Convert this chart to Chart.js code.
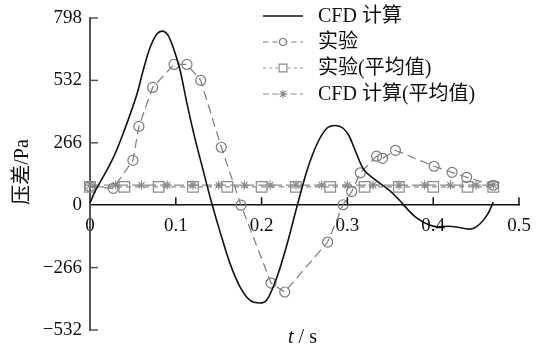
<!DOCTYPE html>
<html>
<head>
<meta charset="utf-8">
<script src="https://cdn.jsdelivr.net/npm/chart.js@4/dist/chart.umd.min.js"></script>
<style>
body { margin: 0; background: #fff; }
</style>
</head>
<body>
<canvas id="myChart" width="546" height="346"></canvas>
<script>
// CFD 计算 curve
var cfdT = [0, 0.006, 0.013, 0.024, 0.031, 0.040, 0.048, 0.055, 0.062, 0.070, 0.078, 0.084, 0.091, 0.097, 0.105, 0.113, 0.122, 0.130, 0.140, 0.152, 0.163, 0.175, 0.186, 0.198, 0.206, 0.218, 0.230, 0.241, 0.253, 0.265, 0.276, 0.286, 0.295, 0.302, 0.309, 0.318, 0.330, 0.340, 0.350, 0.361, 0.372, 0.381, 0.393, 0.405, 0.418, 0.430, 0.443, 0.455, 0.464, 0.470];
var cfdP = [10, 60, 106, 179, 234, 319, 400, 477, 575, 672, 730, 742, 724, 672, 575, 434, 289, 175, 34, -119, -247, -349, -404, -417, -404, -306, -162, -9, 149, 264, 328, 340, 328, 295, 234, 158, 115, 88, 60, 20, -25, -55, -80, -92, -90, -95, -102, -78, -35, 13];
// 实验
var expT = [0, 0.027, 0.050, 0.057, 0.073, 0.098, 0.113, 0.129, 0.153, 0.176, 0.211, 0.227, 0.277, 0.295, 0.305, 0.315, 0.334, 0.341, 0.356, 0.401, 0.422, 0.439, 0.470];
var expP = [80, 72, 191, 336, 502, 600, 600, 532, 247, 0, -332, -370, -157, 2, 58, 138, 209, 200, 234, 166, 140, 119, 85];
// 实验(平均值)
var expAvgT = [0, 0.04, 0.08, 0.12, 0.16, 0.20, 0.24, 0.28, 0.32, 0.36, 0.40, 0.44, 0.47];
var expAvgP = [78, 78, 78, 78, 78, 78, 78, 78, 78, 78, 78, 78, 78];
// CFD 计算(平均值)
var cfdAvgT = [0, 0.03, 0.06, 0.09, 0.12, 0.15, 0.18, 0.21, 0.24, 0.27, 0.30, 0.33, 0.36, 0.39, 0.42, 0.45, 0.47];
var cfdAvgP = [86, 86, 86, 86, 86, 86, 86, 86, 86, 86, 86, 86, 86, 86, 86, 86, 86];

var seriesNames = ['CFD 计算', '实验', '实验(平均值)', 'CFD 计算(平均值)'];
var yTicks = [-532, -266, 0, 266, 532, 798];
var xTicks = [0.1, 0.2, 0.3, 0.4, 0.5];

function pts(xs, ys) {
    var out = [];
    for (var i = 0; i < xs.length; i++) out.push({ x: xs[i], y: ys[i] });
    return out;
}

var serif = '"Liberation Serif", "Times New Roman", "Noto Sans CJK SC", serif';
var grey = '#7c7c7c';
var grey2 = '#8c8c8c';

var dataObj = {
    datasets: [
        {
            label: seriesNames[0],
            data: pts(cfdT, cfdP),
            borderColor: '#111',
            borderWidth: 1.6,
            pointRadius: 0,
            cubicInterpolationMode: 'monotone',
            clip: false,
            legendMarker: null
        }, {
            label: seriesNames[1],
            data: pts(expT, expP),
            borderColor: grey,
            borderWidth: 1.2,
            borderDash: [9, 5],
            pointStyle: 'circle',
            pointRadius: 5,
            pointBorderWidth: 1.2,
            pointBorderColor: grey,
            pointBackgroundColor: 'rgba(0,0,0,0)',
            clip: false,
            legendMarker: 3.5
        }, {
            label: seriesNames[2],
            data: pts(expAvgT, expAvgP),
            borderColor: grey2,
            borderWidth: 1.2,
            borderDash: [5, 4],
            pointStyle: 'rect',
            pointRadius: 7.5,
            pointBorderWidth: 1.2,
            pointBorderColor: grey2,
            pointBackgroundColor: 'rgba(0,0,0,0)',
            clip: false,
            legendMarker: 5.5
        }, {
            label: seriesNames[3],
            data: pts(cfdAvgT, cfdAvgP),
            borderColor: grey2,
            borderWidth: 1.2,
            borderDash: [10, 4],
            pointStyle: 'star',
            pointRadius: 4.5,
            pointBorderWidth: 1.2,
            pointBorderColor: grey2,
            clip: false,
            legendMarker: 4
        }
    ]
};

function minusFmt(v) {
    return v < 0 ? '\u2212' + Math.abs(v) : String(v);
}

function drawMarker(ctx, style, r, x, y) {
    ctx.beginPath();
    if (style === 'circle') {
        ctx.arc(x, y, r, 0, Math.PI * 2);
    } else if (style === 'rect') {
        var s = r * Math.SQRT1_2;
        ctx.rect(x - s, y - s, 2 * s, 2 * s);
    } else if (style === 'star') {
        for (var a = 0; a < 4; a++) {
            var ang = a * Math.PI / 4;
            ctx.moveTo(x - r * Math.cos(ang), y - r * Math.sin(ang));
            ctx.lineTo(x + r * Math.cos(ang), y + r * Math.sin(ang));
        }
    }
    ctx.stroke();
}

var decorPlugin = {
    id: 'decor',
    afterDraw: function (chart) {
        var ctx = chart.ctx;
        var xs = chart.scales.x, ys = chart.scales.y;
        var area = chart.chartArea;
        var y0 = ys.getPixelForValue(0);
        ctx.save();
        // inward ticks
        ctx.lineWidth = 1.5;
        ctx.strokeStyle = '#555';
        yTicks.forEach(function (v) {
            if (v === 0) return;
            var py = ys.getPixelForValue(v);
            ctx.beginPath();
            ctx.moveTo(area.left, py);
            ctx.lineTo(area.left + 8, py);
            ctx.stroke();
        });
        ctx.strokeStyle = '#111';
        xTicks.forEach(function (v) {
            var px = xs.getPixelForValue(v);
            ctx.beginPath();
            ctx.moveTo(px, y0);
            ctx.lineTo(px, y0 - 8);
            ctx.stroke();
        });

        // axis titles
        ctx.fillStyle = '#111';
        ctx.textBaseline = 'middle';
        var cx = (area.left + area.right) / 2 - 2;
        ctx.font = 'italic 20px ' + serif;
        var tW = ctx.measureText('t').width;
        ctx.font = '20px ' + serif;
        var rest = ' / s';
        var rW = ctx.measureText(rest).width;
        var startX = cx - (tW + rW) / 2;
        ctx.textAlign = 'left';
        ctx.font = 'italic 20px ' + serif;
        ctx.fillText('t', startX, 338);
        ctx.font = '20px ' + serif;
        ctx.fillText(rest, startX + tW, 338);

        ctx.save();
        ctx.translate(23, 172);
        ctx.rotate(-Math.PI / 2);
        ctx.textAlign = 'center';
        ctx.font = '20px ' + serif;
        ctx.fillText('压差/Pa', 0, 0);
        ctx.restore();

        // legend
        var rowY = [16, 42, 68, 94];
        chart.data.datasets.forEach(function (ds, i) {
            var y = rowY[i];
            ctx.save();
            ctx.strokeStyle = ds.borderColor;
            ctx.lineWidth = ds.borderWidth;
            ctx.setLineDash(ds.borderDash ? [ds.borderDash[0] * 0.6, ds.borderDash[1] * 0.8] : []);
            ctx.beginPath();
            ctx.moveTo(263, y);
            ctx.lineTo(303, y);
            ctx.stroke();
            ctx.setLineDash([]);
            if (ds.legendMarker) {
                ctx.fillStyle = '#fff';
                if (ds.pointStyle !== 'star') {
                    ctx.beginPath();
                    if (ds.pointStyle === 'circle') ctx.arc(283, y, ds.legendMarker, 0, Math.PI * 2);
                    else ctx.rect(283 - ds.legendMarker * 0.72, y - ds.legendMarker * 0.72, ds.legendMarker * 1.44, ds.legendMarker * 1.44);
                    ctx.fill();
                }
                ctx.lineWidth = 1.2;
                drawMarker(ctx, ds.pointStyle, ds.legendMarker, 283, y);
            }
            ctx.restore();
            ctx.fillStyle = '#111';
            ctx.textAlign = 'left';
            ctx.textBaseline = 'middle';
            ctx.font = '20px ' + serif;
            ctx.fillText(ds.label, 318, y + 1);
        });
        ctx.restore();
    }
};

var optionsObj = {
    responsive: false,
    animation: false,
    layout: { padding: { left: 0, right: 27, top: 18, bottom: 16 } },
    plugins: {
        legend: { display: false },
        tooltip: { enabled: false }
    },
    scales: {
        x: {
            type: 'linear',
            position: { y: 0 },
            min: 0,
            max: 0.5,
            afterFit: function (scale) { scale.paddingLeft = 0; scale.paddingRight = 0; },
            grid: { drawOnChartArea: false, drawTicks: false },
            border: { color: '#111', width: 1.5 },
            ticks: {
                stepSize: 0.1,
                padding: 9,
                color: '#111',
                font: { family: serif, size: 19 },
                maxRotation: 0
            }
        },
        y: {
            min: -532,
            max: 798,
            afterFit: function (scale) {
                scale.width = 90;
                scale.paddingTop = 0;
                scale.paddingBottom = 0;
            },
            grid: { drawOnChartArea: false, drawTicks: false },
            border: { color: '#555', width: 2 },
            ticks: {
                stepSize: 266,
                padding: 8,
                color: '#111',
                font: { family: serif, size: 19 },
                callback: function (v) { return minusFmt(v); }
            }
        }
    }
};

new Chart(document.getElementById('myChart'), {
    type: 'line',
    data: dataObj,
    options: optionsObj,
    plugins: [decorPlugin]
});
</script>
</body>
</html>
